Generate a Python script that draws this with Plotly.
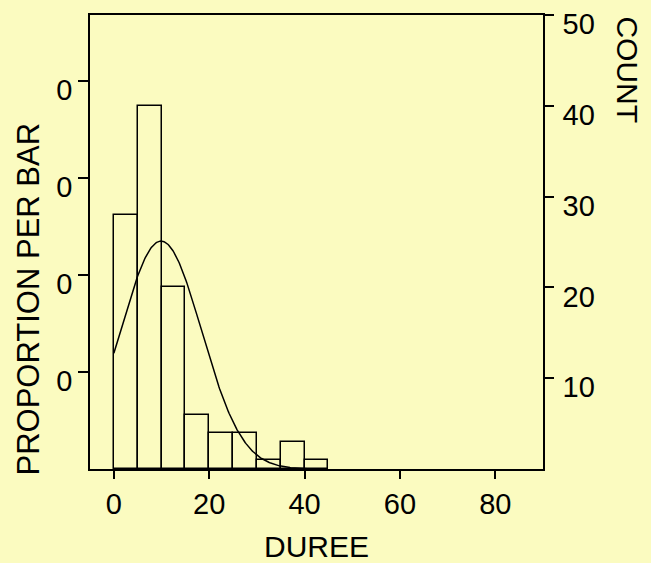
import numpy as np
import plotly.graph_objects as go

# Data
bin_starts = [0, 5, 10, 15, 20, 25, 30, 35, 40]
counts = [28, 40, 20, 6, 4, 4, 1, 3, 1]
bin_width = 5
fit_mean = 9.9
fit_sd = 8.5
fit_range = (0.0, 42.0)
x_ticks = [0, 20, 40, 60, 80]
count_ticks = [10, 20, 30, 40, 50]
prop_ticks = [0.1, 0.2, 0.3, 0.4]
prop_ticktext = ["0", "0", "0", "0"]

N = sum(counts)
centers = [s + bin_width / 2 for s in bin_starts]

# fitted normal curve scaled to counts per bar
xc = np.linspace(fit_range[0], fit_range[1], 300)
yc = N * bin_width * np.exp(-0.5 * ((xc - fit_mean) / fit_sd) ** 2) / (fit_sd * np.sqrt(2 * np.pi))

BG = "#FBFBC0"
FONT = "Liberation Sans, Arial, sans-serif"
FS = 29
TFS = 30

fig = go.Figure()
fig.add_trace(go.Bar(x=centers, y=counts, width=[bin_width] * len(counts),
                     marker=dict(color="rgba(0,0,0,0)", line=dict(color="black", width=1.5)),
                     yaxis="y", showlegend=False))
fig.add_trace(go.Scatter(x=xc, y=yc, mode="lines", line=dict(color="black", width=1.5),
                         yaxis="y", showlegend=False))
# invisible trace to activate left proportion axis
fig.add_trace(go.Scatter(x=[None], y=[None], yaxis="y2", showlegend=False))

axis_common = dict(showgrid=False, zeroline=False, showline=True, linecolor="black",
                   linewidth=1.5, ticks="outside", tickcolor="black", tickwidth=1.5,
                   ticklabeloverflow="allow", automargin=False,
                   tickfont=dict(family=FONT, size=FS, color="black"))

ymax = 50.02

fig.update_layout(
    width=651, height=563,
    margin=dict(l=90, r=108, t=15, b=94),
    paper_bgcolor=BG, plot_bgcolor=BG,
    font=dict(family=FONT, size=FS, color="black"),
    bargap=0,
    xaxis=dict(range=[-5, 90], tickvals=x_ticks, ticklen=8, mirror=True, **axis_common),
    yaxis=dict(range=[0, ymax], side="right", tickvals=count_ticks, ticklen=9,
               ticklabelshift=9, ticklabelstandoff=3, **axis_common),
    yaxis2=dict(range=[0, ymax / N], side="left", overlaying="y", tickvals=prop_ticks,
                ticktext=prop_ticktext, ticklen=10, ticklabelshift=9, **axis_common),
    annotations=[
        dict(text="DUREE", x=0.5, y=-0.17, xref="paper", yref="paper", showarrow=False,
             xanchor="center", yanchor="middle", font=dict(family=FONT, size=TFS)),
        dict(text="PROPORTION PER BAR", x=-0.1347, y=0.3755, xref="paper", yref="paper",
             showarrow=False, textangle=-90, xanchor="center", yanchor="middle",
             font=dict(family=FONT, size=31)),
        dict(text="COUNT", x=1.1865, y=0.879, xref="paper", yref="paper",
             showarrow=False, textangle=90, xanchor="center", yanchor="middle",
             font=dict(family=FONT, size=TFS)),
    ],
)

fig.write_html("out.html")
